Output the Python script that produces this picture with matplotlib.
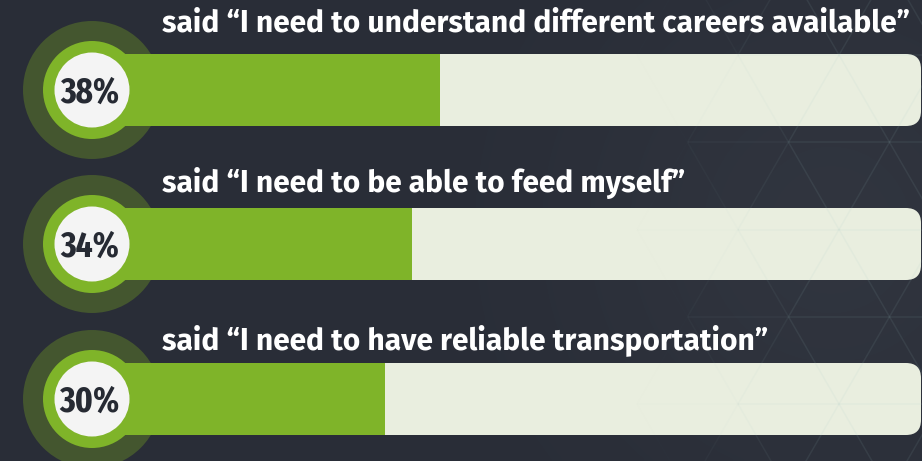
import matplotlib
matplotlib.use('Agg')
import matplotlib.pyplot as plt
from matplotlib.patches import Circle, FancyBboxPatch
from matplotlib.collections import LineCollection
import numpy as np

# ---------------- data ----------------
statements = ['said “I need to understand different careers available”',
              'said “I need to be able to feed myself”',
              'said “I need to have reliable transportation”']
percents = [38, 34, 30]
pct_labels = ['38%', '34%', '30%']

# ---------------- layout / style ----------------
W, H = 922, 461
BG = '#292d37'
GREEN = '#7fb429'
DARK_RING = '#44562f'
TRACK = '#e9eedf'
INNER = '#f4f4f4'
TXT_DARK = '#262a33'

row_y = [90, 244, 399]          # bar centres (px)
title_base = [32, 192, 349]     # title baselines (px)
cx = 92                          # badge centre x
R_OUT, R_MID, R_IN = 69, 49, 37.5
BAR_H = 72
TRACK_END = 921
X0, S = 178.25, 6.875            # pixel of 0 % and px per %

fig = plt.figure(figsize=(W / 100, H / 100), dpi=100)
fig.patch.set_facecolor(BG)

bg = fig.add_axes([0, 0, 1, 1])
bg.set_xlim(0, W); bg.set_ylim(H, 0); bg.axis('off')

# subtle lighter glow on right
yy, xx = np.mgrid[0:H:4, 0:W:4]
glow = np.exp(-(((xx - 830) / 250.0) ** 2 + ((yy - 230) / 260.0) ** 2))
img = np.zeros(glow.shape + (4,))
img[..., 0:3] = np.array([0.26, 0.28, 0.32])
img[..., 3] = glow * 0.3
bg.imshow(img, extent=(0, W, H, 0), zorder=0, interpolation='bilinear', aspect='auto')

for yc in row_y:
    bg.add_patch(Circle((cx, yc), R_OUT, facecolor=DARK_RING, edgecolor='none', zorder=1))
    bg.add_patch(FancyBboxPatch((cx, yc - BAR_H / 2), TRACK_END - cx, BAR_H,
                                boxstyle='round,pad=0,rounding_size=15',
                                facecolor=TRACK, edgecolor='none', zorder=2))

# bars on a percent scale
bx = fig.add_axes([0, 0, 1, 1])
bx.set_xlim(-X0 / S, (W - X0) / S); bx.set_ylim(H, 0); bx.axis('off')
bx.patch.set_alpha(0)
origin = (cx - X0) / S
bx.barh(row_y, [p - origin for p in percents], left=origin, height=BAR_H,
        color=GREEN, edgecolor='none')

top = fig.add_axes([0, 0, 1, 1])
top.set_xlim(0, W); top.set_ylim(H, 0); top.axis('off'); top.patch.set_alpha(0)

# faint triangle lattice (decoration)
L, h = 101.0, 87.25
segs, alphas = [], []
verts = {}
for k in range(-1, 7):
    y = 55 + k * h
    off = 0 if k % 2 == 0 else -50.5
    for m in range(-9, 4):
        verts[(k, m)] = (738 + off + m * L, y)
for (k, m), p in verts.items():
    nbrs = [(k, m + 1)]
    if k % 2 == 0:
        nbrs += [(k + 1, m), (k + 1, m + 1)]
    else:
        nbrs += [(k + 1, m - 1), (k + 1, m)]
    for n in nbrs:
        if n in verts:
            q = verts[n]
            xm = (p[0] + q[0]) / 2
            a = np.clip((xm - 650) / 160.0, 0, 1) * 0.09
            if a > 0:
                segs.append([p, q]); alphas.append(a)
cols = [(0.62, 0.78, 0.78, a) for a in alphas]
top.add_collection(LineCollection(segs, colors=cols, linewidths=1.1, zorder=1))

renderer = fig.canvas.get_renderer()

# titles
tt = []
for s, yb in zip(statements, title_base):
    tt.append(top.text(162, yb, s, color='white', fontsize=20, fontweight='bold',
                       family='Fira Sans', va='baseline', ha='left', zorder=5))
w = tt[0].get_window_extent(renderer).width
for t in tt:
    t.set_fontsize(20 * 749 / w)

pt = []
for yc, lab in zip(row_y, pct_labels):
    top.add_patch(Circle((cx, yc), R_MID, facecolor=GREEN, edgecolor='none', zorder=3))
    top.add_patch(Circle((cx, yc), R_IN, facecolor=INNER, edgecolor='none', zorder=4))
    pt.append(top.text(cx - 2.5, yc - 1, lab, color=TXT_DARK, fontsize=26, fontweight='bold',
                       family='Fira Sans Extra Condensed', ha='center', va='center_baseline',
                       zorder=5))
w2 = pt[0].get_window_extent(renderer).width
for t in pt:
    t.set_fontsize(26 * 59 / w2)

fig.savefig('out.png', dpi=100, facecolor=BG)
